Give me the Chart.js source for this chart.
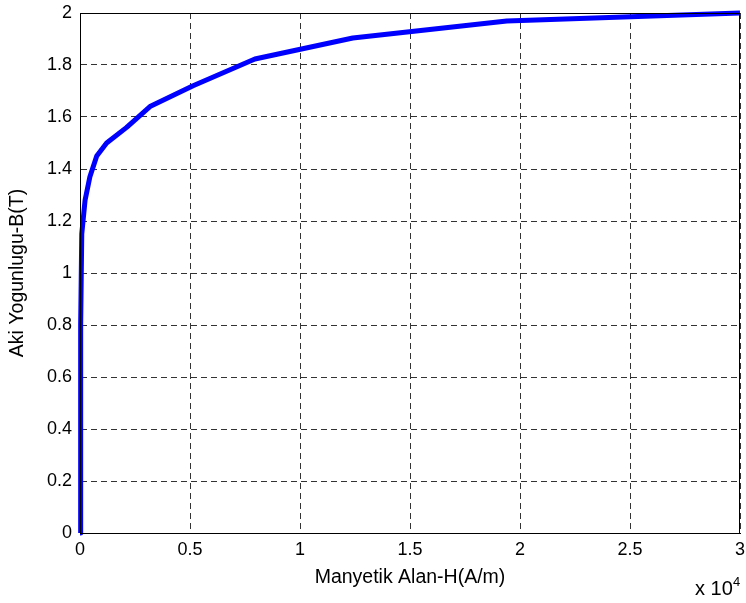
<!DOCTYPE html>
<html>
<head>
<meta charset="utf-8">
<script src="https://cdn.jsdelivr.net/npm/chart.js@4"></script>
<style>
  html, body { margin: 0; padding: 0; background: #fff; }
  #wrap { width: 746px; height: 603px; position: relative; }
</style>
</head>
<body>
<div id="wrap"><canvas id="bh"></canvas></div>
<script>
// H in units of 1e4 A/m, B in Tesla
const hVals = [0, 0.003, 0.008, 0.023, 0.045, 0.076, 0.121, 0.212, 0.318, 0.514, 0.795, 1.24, 1.94, 3.0];
const bVals = [0, 0.80, 1.15, 1.28, 1.37, 1.45, 1.50, 1.56, 1.64, 1.72, 1.823, 1.904, 1.969, 2.0];
const xTicks = [0, 0.5, 1, 1.5, 2, 2.5, 3];
const yTicks = [0, 0.2, 0.4, 0.6, 0.8, 1, 1.2, 1.4, 1.6, 1.8, 2];

const points = hVals.map((h, i) => ({ x: h, y: bVals[i] }));
const FONT = "'Liberation Sans', Arial, sans-serif";

const boxPlugin = {
  id: "box",
  afterDraw(chart){
    const { ctx, chartArea: a } = chart;
    ctx.save();
    ctx.strokeStyle = "#000";
    ctx.lineWidth = 1;
    ctx.strokeRect(a.left + 0.5, a.top + 0.5, a.right - a.left - 1, a.bottom - a.top);
    // exponent label under the x axis
    ctx.fillStyle = "#000";
    ctx.font = `20px ${FONT}`;
    ctx.textBaseline = "alphabetic";
    ctx.fillText("x 10", 695, 595);
    ctx.font = `13px ${FONT}`;
    ctx.fillText("4", 733, 586);
    ctx.restore();
  },
};

const grid = { display: true, color: "#333", lineWidth: 1, drawTicks: false, tickLength: 0 };

new Chart(document.getElementById("bh"), {
  type: "line",
  data: {
    datasets: [{
      data: points,
      borderColor: "#0000ff",
      borderWidth: 5,
      pointRadius: 0,
      tension: 0,
      fill: false,
      clip: false,
      borderJoinStyle: "round",
    }],
  },
  options: {
    responsive: true,
    maintainAspectRatio: false,
    animation: false,
    layout: { padding: { top: 13, right: 6, left: 0, bottom: 0 } },
    plugins: { legend: { display: false }, tooltip: { enabled: false } },
    scales: {
      x: {
        type: "linear",
        min: 0, max: 3,
        afterBuildTicks: (s) => { s.ticks = xTicks.map((v) => ({ value: v })); },
        afterFit: (s) => { s.height = 70; s.paddingLeft = 0; s.paddingRight = 0; },
        grid: { ...grid, borderDash: [6, 4] },
        border: { display: true, color: "#000", width: 1, dash: [6, 4] },
        ticks: { color: "#000", font: { family: FONT, size: 18 }, padding: 6, maxRotation: 0, callback: (v) => String(v) },
        title: { display: true, text: "Manyetik Alan-H(A/m)", color: "#000", font: { family: FONT, size: 19.5 }, padding: { top: 0, bottom: 14 } },
      },
      y: {
        type: "linear",
        min: 0, max: 2,
        afterBuildTicks: (s) => { s.ticks = yTicks.map((v) => ({ value: v })); },
        afterFit: (s) => { s.width = 80; s.paddingTop = 0; s.paddingBottom = 0; },
        grid,
        border: { display: true, color: "#000", width: 1, dash: [6, 4] },
        ticks: { color: "#000", font: { family: FONT, size: 18 }, padding: 8, callback: (v) => String(v) },
        title: { display: true, text: "Aki Yogunlugu-B(T)", color: "#000", font: { family: FONT, size: 19.5 }, padding: { top: 6, bottom: 0 } },
      },
    },
  },
  plugins: [boxPlugin],
});
</script>
</body>
</html>
